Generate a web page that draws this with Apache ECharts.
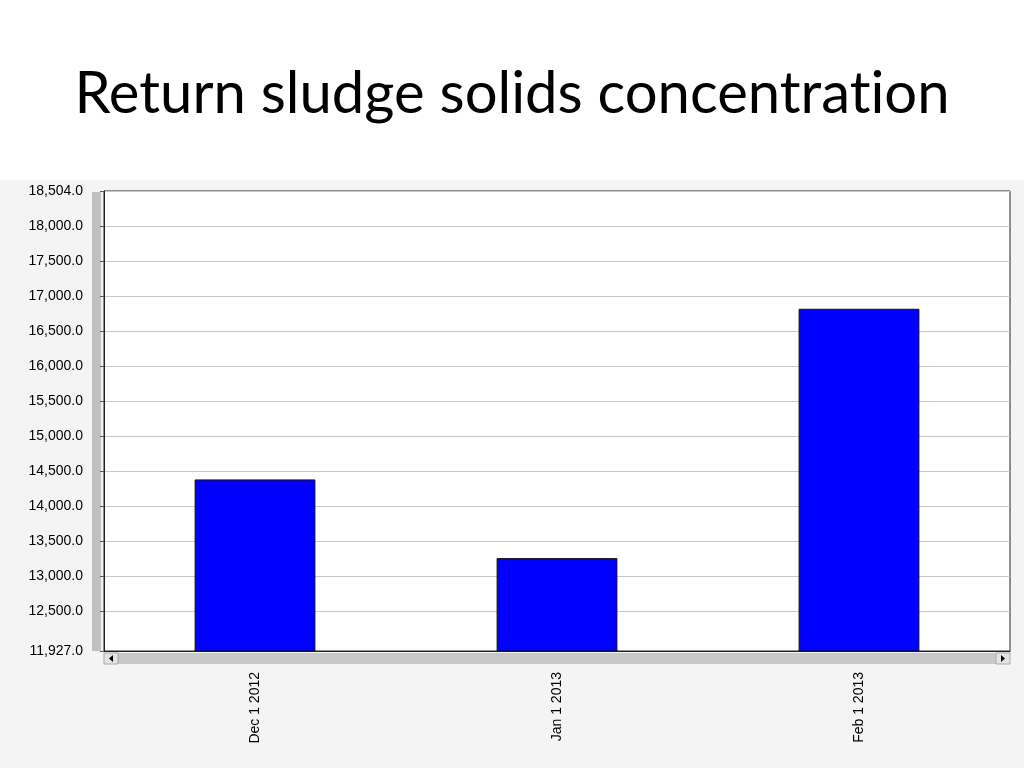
<!DOCTYPE html>
<html>
<head>
<meta charset="utf-8">
<script src="https://cdn.jsdelivr.net/npm/echarts@6/dist/echarts.min.js"></script>
<style>
html,body{margin:0;padding:0;}
body{width:1024px;height:768px;background:linear-gradient(to bottom,#ffffff 0px,#ffffff 180px,#f4f4f4 180px,#f4f4f4 768px);}
#chart{width:1024px;height:768px;}
</style>
</head>
<body>
<div id="chart"></div>
<script>
const titleParts = ['Return sludge solids concentrat', 'ion'];
const categories = ['Dec 1 2012', 'Jan 1 2013', 'Feb 1 2013'];
const values = [14380, 13255, 16820];
const yMin = 11927;
const yMax = 18504;
const yTicks = [11927, 12500, 13000, 13500, 14000, 14500, 15000, 15500, 16000, 16500, 17000, 17500, 18000, 18504];

const fmt = v => Number(v).toLocaleString('en-US', {minimumFractionDigits: 1, maximumFractionDigits: 1});

const chart = echarts.init(document.getElementById('chart'));
chart.setOption({
  backgroundColor: 'transparent',
  animation: false,
  title: {
    text: titleParts.map(p => '{t|' + p + '}').join(''),
    left: 'center',
    top: 60,
    textStyle: {
      fontFamily: 'Lato', fontSize: 58, fontWeight: 'normal', color: '#000',
      rich: {t: {fontFamily: 'Lato', fontSize: 58, color: '#000'}}
    }
  },
  grid: {
    left: 104, right: 14, top: 191, bottom: 117,
    show: true, backgroundColor: '#ffffff', borderColor: '#222', borderWidth: 1
  },
  xAxis: {
    type: 'category',
    data: categories,
    axisLine: {show: true, lineStyle: {color: '#222'}},
    axisTick: {show: false},
    axisLabel: {rotate: 90, margin: 21, fontFamily: 'Liberation Sans', fontSize: 14, color: '#000'}
  },
  yAxis: {
    type: 'value',
    min: yMin, max: yMax,
    axisLine: {show: true, lineStyle: {color: '#222', width: 1}},
    axisTick: {show: true, length: 4, customValues: yTicks, lineStyle: {color: '#555'}},
    axisLabel: {customValues: yTicks, formatter: fmt, margin: 21, fontFamily: 'Liberation Sans', fontSize: 14, color: '#000'},
    splitLine: {show: true, lineStyle: {color: '#c8c8c8', width: 1}}
  },
  series: [{
    type: 'bar',
    data: values,
    barWidth: '40%',
    itemStyle: {color: '#0000ff', borderColor: '#111', borderWidth: 1}
  }],
  graphic: [
    {type: 'rect', shape: {x: 92, y: 192, width: 9, height: 459}, style: {fill: '#c0c0c0'}, silent: true},
    {type: 'rect', shape: {x: 104, y: 653, width: 906, height: 11}, style: {fill: '#c8c8c8'}, silent: true},
    {type: 'rect', shape: {x: 104, y: 653, width: 14, height: 11}, style: {fill: '#e4e4e4', stroke: '#aaa', lineWidth: 1}, silent: true},
    {type: 'rect', shape: {x: 996, y: 653, width: 14, height: 11}, style: {fill: '#e4e4e4', stroke: '#aaa', lineWidth: 1}, silent: true},
    {type: 'polygon', shape: {points: [[113, 655], [113, 662], [109, 658.5]]}, style: {fill: '#000'}, silent: true},
    {type: 'polygon', shape: {points: [[1001, 655], [1001, 662], [1005, 658.5]]}, style: {fill: '#000'}, silent: true}
  ]
});
</script>
</body>
</html>
